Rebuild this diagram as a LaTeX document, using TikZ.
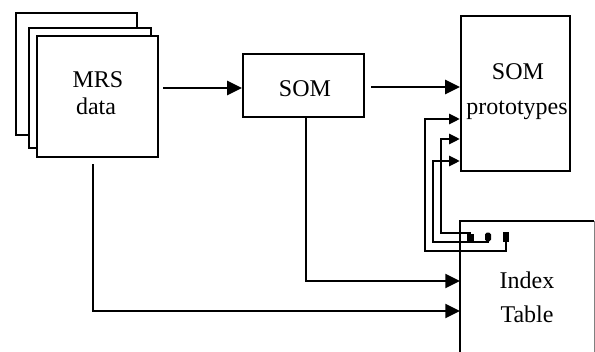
\documentclass[tikz,border=0pt]{standalone}
\usepackage{fontspec}
\setmainfont{Liberation Serif}
\usetikzlibrary{arrows.meta}
\begin{document}
\begin{tikzpicture}[x=0.75pt,y=-0.75pt,line width=1.7pt,
  box/.style={draw,fill=white,rectangle,inner sep=0pt},
  lbl/.style={anchor=base,font=\fontsize{18}{20}\selectfont,inner sep=0pt},
  big/.style={-{Triangle[length=11pt,width=10.5pt]}},
  small/.style={-{Triangle[length=8pt,width=7.5pt]}},
  dotbox/.style={fill,draw=none,rectangle,inner sep=0pt}]
\useasboundingbox (0,0) rectangle (595,352);
% helper coordinates
\coordinate (y87) at (0,87);
\coordinate (y88) at (0,88);
\coordinate (y119) at (0,119);
\coordinate (y139) at (0,139);
\coordinate (y161) at (0,161);
\coordinate (y281) at (0,281);
\coordinate (y311) at (0,311);
\coordinate (c425) at (425,251);
\coordinate (c433) at (433,242);
\coordinate (c441) at (441,233);
% MRS data stack
\node[box,minimum width=90.75pt,minimum height=91.5pt] (back) at (76.5,74) {};
\node[box,minimum width=91.5pt,minimum height=90pt] (mid) at (90,88) {};
\node[box,minimum width=90.75pt,minimum height=90.75pt] (mrs) at (97.5,96.5) {};
\node[lbl] (mrst1) at (98,88) {MRS};
\node[lbl] (mrst2) at (96,115) {data};
% SOM
\node[box,minimum width=90.75pt,minimum height=47.25pt] (som) at (303.5,85.5) {};
\node[lbl] (somt) at (305,97) {SOM};
% SOM prototypes
\node[box,minimum width=81.75pt,minimum height=116.25pt] (proto) at (515.5,93.5) {};
\node[lbl] (protot1) at (518,80) {SOM};
\node[lbl] (protot2) at (517,115) {prototypes};
% Index table (cut off at the bottom)
\coordinate (idxtl) at (460,221);
\coordinate (idxtr) at (594,221);
\coordinate (idxbl) at (460,352);
\coordinate (idxbr) at (594,352);
\draw[gray,line width=0.6pt] (idxtr) -- (idxbr);
\node[lbl] (idxt1) at (527,288) {Index};
\node[lbl] (idxt2) at (527,322) {Table};
% dots
\node[dotbox,minimum width=5.25pt,minimum height=6pt] (d1) at (470,238.5) {};
\node[dotbox,minimum width=4.5pt,minimum height=6.5pt,rounded corners=1.2pt] (d2) at (488,237) {};
\node[dotbox,minimum width=4pt,minimum height=7pt] (d3) at (506,237) {};
% main connectors
\draw[big,shorten <=3pt] (mrs.east |- y88) -- (som.west |- y88);
\draw[big,shorten <=4.5pt] (som.east |- y87) -- (proto.west |- y87);
\draw[big] ([xshift=1.7pt]som.south) |- (idxtl |- y281);
\draw[big,shorten <=4.5pt] ([xshift=-3.4pt]mrs.south) |- (idxtl |- y311);
% feedback loops
\draw[small] (d3.center) |- (c425) |- (proto.west |- y119);
\draw[small] (d2.center) |- (c433) |- (proto.west |- y161);
\draw[small] (d1.center) |- (c441) |- (proto.west |- y139);
% index box edges
\draw (idxbl) -- (idxtl) -- ([xshift=-0.3pt]idxtr);
\end{tikzpicture}
\end{document}
